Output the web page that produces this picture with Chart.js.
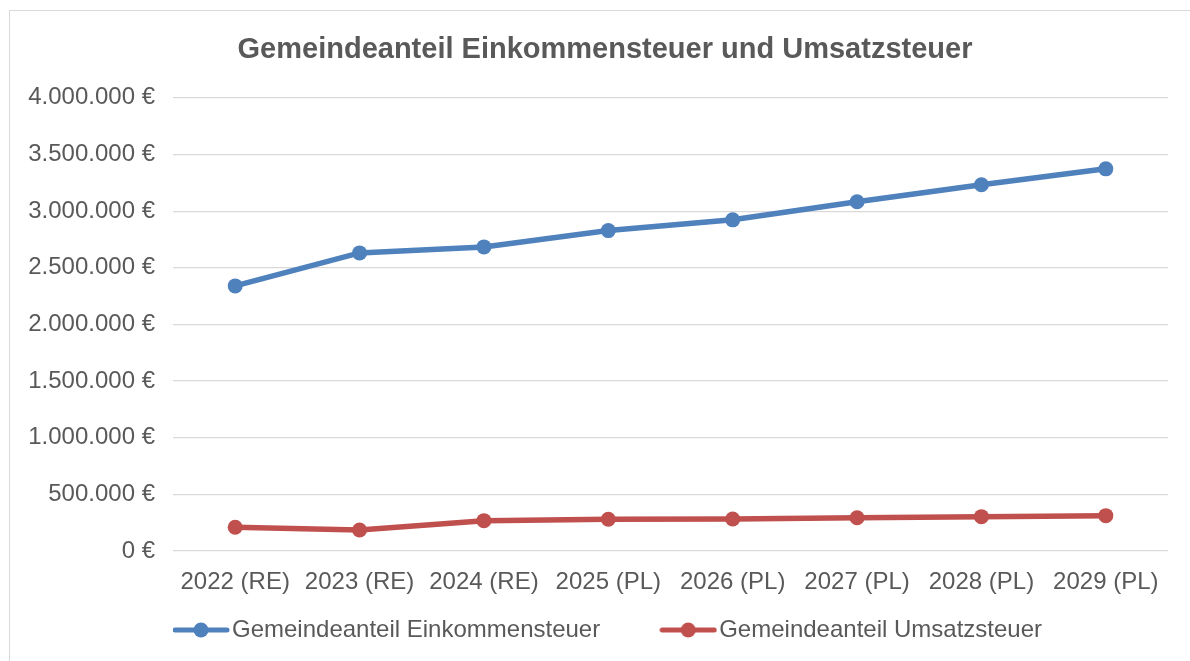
<!DOCTYPE html>
<html>
<head>
<meta charset="utf-8">
<script src="https://cdn.jsdelivr.net/npm/chart.js@4.4.1/dist/chart.umd.min.js"></script>
<style>
  html, body { margin: 0; padding: 0; background: #ffffff; overflow: hidden; }
  #frame { position: absolute; left: 9px; top: 10px; width: 1200px; height: 700px; border: 1px solid #d9d9d9; box-sizing: border-box; }
  #c { position: absolute; left: 0; top: 0; }
</style>
</head>
<body>
<div id="frame"></div>
<canvas id="c" width="1190" height="661"></canvas>
<script>
const titleText = 'Gemeindeanteil Einkommensteuer und Umsatzsteuer';
const categories = ['2022 (RE)', '2023 (RE)', '2024 (RE)', '2025 (PL)', '2026 (PL)', '2027 (PL)', '2028 (PL)', '2029 (PL)'];
const seriesNames = ['Gemeindeanteil Einkommensteuer', 'Gemeindeanteil Umsatzsteuer'];
const einkommensteuer = [2340000, 2631000, 2684000, 2828000, 2923000, 3082000, 3232000, 3373000];
const umsatzsteuer = [209000, 185000, 268000, 280000, 283000, 294000, 303000, 312000];
const yMin = 0;
const yMax = 4000000;
const yStep = 500000;

const BLUE = '#4f81bd';
const RED = '#c0504d';
const TEXT = '#595959';
const FONT = '"Liberation Sans", Arial, Helvetica, sans-serif';

function marker(color) {
  const cv = document.createElement('canvas');
  cv.width = 58; cv.height = 18;
  const g = cv.getContext('2d');
  g.strokeStyle = color; g.lineWidth = 5; g.lineCap = 'round';
  g.beginPath(); g.moveTo(3, 9); g.lineTo(55, 9); g.stroke();
  g.fillStyle = color;
  g.beginPath(); g.arc(29, 9, 7.5, 0, Math.PI * 2); g.fill();
  return cv;
}
const markers = [marker(BLUE), marker(RED)];

function fmt(v) {
  return String(Math.round(v)).replace(/\B(?=(\d{3})+(?!\d))/g, '.') + ' €';
}

new Chart(document.getElementById('c'), {
  type: 'line',
  data: {
    labels: categories,
    datasets: [
      { label: seriesNames[0], data: einkommensteuer, borderColor: BLUE, backgroundColor: BLUE,
        borderWidth: 5.5, pointRadius: 7.5, pointHoverRadius: 7.5, pointBorderWidth: 0, tension: 0, yAxisID: 'y' },
      { label: seriesNames[1], data: umsatzsteuer, borderColor: RED, backgroundColor: RED,
        borderWidth: 5.5, pointRadius: 7.5, pointHoverRadius: 7.5, pointBorderWidth: 0, tension: 0, yAxisID: 'y' }
    ]
  },
  options: {
    responsive: false,
    animation: false,
    layout: { padding: { left: 20, right: 0, top: 0, bottom: 9 } },
    plugins: {
      title: {
        display: true, text: titleText, color: TEXT,
        font: { family: FONT, size: 29, weight: 'bold' },
        padding: { top: 33, bottom: 30 }
      },
      legend: {
        position: 'bottom', align: 'start', fullSize: false,
        labels: {
          color: TEXT, font: { family: FONT, size: 24 },
          usePointStyle: true, pointStyleWidth: 38, padding: 9,
          generateLabels: (chart) => chart.data.datasets.map((ds, i) => ({
            text: i === 0 ? ds.label + '\u00a0'.repeat(9) : ds.label,
            pointStyle: markers[i], fillStyle: ds.borderColor, strokeStyle: ds.borderColor,
            lineWidth: 0, hidden: false, datasetIndex: i, fontColor: TEXT
          }))
        }
      },
      tooltip: { enabled: false }
    },
    scales: {
      x: {
        offset: true,
        grid: { display: false, drawTicks: false },
        border: { display: false },
        ticks: { color: TEXT, font: { family: FONT, size: 24 }, padding: 17, maxRotation: 0, autoSkip: false },
        afterFit: (s) => { s.height = 58; }
      },
      y: {
        min: yMin, max: yMax,
        grid: { color: '#d9d9d9', lineWidth: 1.2, drawTicks: false },
        border: { display: false },
        ticks: { stepSize: yStep, color: TEXT, font: { family: FONT, size: 24 }, padding: 18, callback: (v) => fmt(v) },
        afterFit: (s) => { s.width = 153; }
      },
      yRight: {
        position: 'right', min: yMin, max: yMax,
        grid: { display: false, drawTicks: false },
        border: { display: false },
        ticks: { display: false },
        afterFit: (s) => { s.width = 22; }
      }
    }
  }
});
</script>
</body>
</html>
